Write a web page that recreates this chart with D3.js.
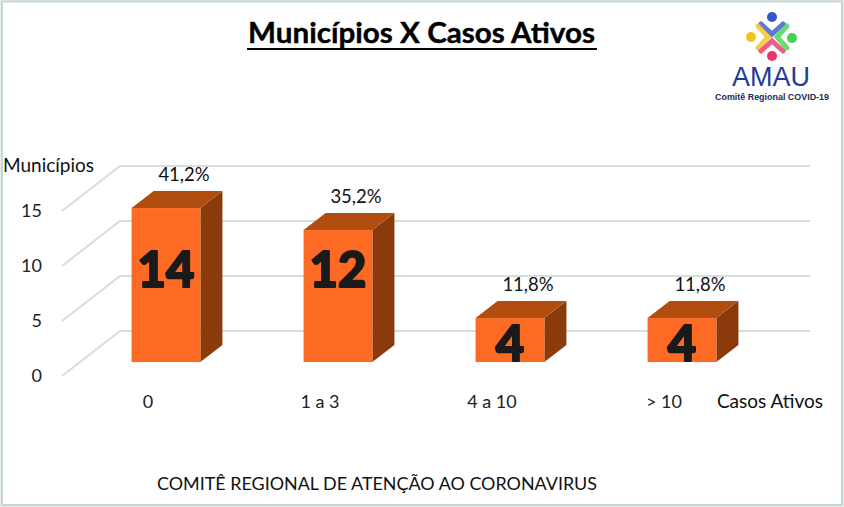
<!DOCTYPE html>
<html>
<head>
<meta charset="utf-8">
<script src="https://cdn.jsdelivr.net/npm/d3@7"></script>
<style>
  html, body { margin: 0; padding: 0; background: #e6eeeb; }
  svg { display: block; font-family: Lato, 'Open Sans', sans-serif; }
</style>
</head>
<body>
<div id="chart"></div>
<script>
const categories = ['0', '1 a 3', '4 a 10', '> 10'];
const municipios = [14, 12, 4, 4];
const percentLabels = ['41,2%', '35,2%', '11,8%', '11,8%'];
const yTicks = [0, 5, 10, 15];

const width = 844;
const height = 507;

// fake 3d: how far the back wall is shifted from the front plane
const depth = { dx: 58, dy: -45 };
const barFront = 0.31, barBack = 0.69;
const proj = (x, y, f) => [x + depth.dx * f, y + depth.dy * f];

const y = d3.scaleLinear().domain([0, 15]).range([376, 211]);
const x = d3.scaleBand()
  .domain(categories)
  .range([62, 750])
  .paddingInner(0.6)
  .paddingOuter(0.3);

const svg = d3.select('#chart').append('svg')
  .attr('width', width)
  .attr('height', height);

svg.append('rect')
  .attr('x', 2).attr('y', 1.5)
  .attr('width', 840).attr('height', 503.5)
  .attr('fill', '#fff')
  .attr('stroke', '#c6d6d1')
  .attr('stroke-width', 2);

// Title
svg.append('text')
  .attr('x', 248).attr('y', 43)
  .attr('font-size', 29).attr('font-weight', 'bold')
  .attr('stroke', '#000').attr('stroke-width', 0.4)
  .attr('textLength', 347).attr('lengthAdjust', 'spacingAndGlyphs')
  .text('Municípios X Casos Ativos');
svg.append('line')
  .attr('x1', 247).attr('x2', 597)
  .attr('y1', 49).attr('y2', 49)
  .attr('stroke', '#000').attr('stroke-width', 2);

// Logo (rough)
const logo = svg.append('g');
const people = [
  { c: '#3457c9', head: [772, 17], arm: [[761, 24], [772, 34], [783, 24]] },
  { c: '#f4c21c', head: [751, 37], arm: [[758, 26], [768, 37], [758, 48]] },
  { c: '#41d44a', head: [792, 38], arm: [[787, 26], [777, 37], [787, 48]] },
  { c: '#e8356a', head: [772, 56], arm: [[761, 51], [772, 41], [783, 51]] },
];
logo.selectAll('path')
  .data(people)
  .join('path')
  .attr('d', d => d3.line()(d.arm))
  .attr('fill', 'none')
  .attr('stroke', d => d.c)
  .attr('stroke-width', 5)
  .attr('stroke-linecap', 'round')
  .attr('opacity', 0.8);
logo.selectAll('circle')
  .data(people)
  .join('circle')
  .attr('cx', d => d.head[0]).attr('cy', d => d.head[1])
  .attr('r', 5)
  .attr('fill', d => d.c);
logo.append('text')
  .attr('x', 771).attr('y', 86)
  .attr('text-anchor', 'middle')
  .attr('font-family', 'Liberation Sans, Arial, sans-serif')
  .attr('font-size', 27)
  .attr('fill', '#1f3d95')
  .attr('textLength', 78).attr('lengthAdjust', 'spacingAndGlyphs')
  .text('AMAU');
logo.append('text')
  .attr('x', 772).attr('y', 100)
  .attr('text-anchor', 'middle')
  .attr('font-family', 'Liberation Sans, Arial, sans-serif')
  .attr('font-size', 8.6).attr('font-weight', 'bold')
  .attr('fill', '#1d2b55')
  .attr('textLength', 114).attr('lengthAdjust', 'spacingAndGlyphs')
  .text('Comitê Regional COVID-19');

// Walls: diagonal floor lines + horizontal back grid
const x0 = x.range()[0], x1 = x.range()[1];
svg.append('g')
  .selectAll('path')
  .data(yTicks)
  .join('path')
  .attr('d', v => d3.line()([
    proj(x0, y(v), 0),
    proj(x0, y(v), 1),
    proj(x1 + 2, y(v), 1),
  ]))
  .attr('fill', 'none')
  .attr('stroke', '#d3dfdb')
  .attr('stroke-width', 2);

// y tick labels
svg.append('g')
  .selectAll('text')
  .data(yTicks)
  .join('text')
  .attr('x', 42)
  .attr('y', v => y(v))
  .attr('dy', '0.35em')
  .attr('text-anchor', 'end')
  .attr('font-size', 18)
  .attr('fill', '#222')
  .text(v => v);

svg.append('text')
  .attr('x', 3).attr('y', 172)
  .attr('font-size', 19)
  .attr('fill', '#111')
  .text('Municípios');

// Bars
const data = categories.map((c, i) => ({ c, v: municipios[i], pct: percentLabels[i] }));
const gBars = svg.append('g')
  .selectAll('g')
  .data(data)
  .join('g');

gBars.append('path')
  .attr('d', d => {
    const bx = x(d.c), w = x.bandwidth();
    return d3.line()([
      proj(bx + w, y(d.v), barFront),
      proj(bx + w, y(0), barFront),
      proj(bx + w, y(0), barBack),
      proj(bx + w, y(d.v), barBack),
    ]) + 'Z';
  })
  .attr('fill', '#8b3b0b');

gBars.append('path')
  .attr('d', d => {
    const bx = x(d.c), w = x.bandwidth();
    return d3.line()([
      proj(bx, y(d.v), barFront),
      proj(bx + w, y(d.v), barFront),
      proj(bx + w, y(d.v), barBack),
      proj(bx, y(d.v), barBack),
    ]) + 'Z';
  })
  .attr('fill', '#b24d10');

gBars.append('rect')
  .attr('x', d => proj(x(d.c), y(d.v), barFront)[0])
  .attr('y', d => proj(x(d.c), y(d.v), barFront)[1])
  .attr('width', x.bandwidth())
  .attr('height', d => y(0) - y(d.v))
  .attr('fill', '#fd6a24');

// value inside the bar
gBars.append('text')
  .attr('x', d => proj(x(d.c) + x.bandwidth() / 2, 0, barFront)[0])
  .attr('y', d => {
    const top = proj(0, y(d.v), barFront)[1];
    const bottom = proj(0, y(0), barFront)[1];
    return d.v > 8 ? proj(0, y(8.4), barFront)[1] : (top + bottom) / 2 + 3;
  })
  .attr('dy', '0.36em')
  .attr('text-anchor', 'middle')
  .attr('font-size', 49)
  .attr('font-weight', 900)
  .attr('fill', '#1a1a1a')
  .attr('stroke', '#1a1a1a')
  .attr('stroke-width', 2)
  .attr('stroke-linejoin', 'round')
  .text(d => d.v);

// percentage above the bar
gBars.append('text')
  .attr('x', d => x(d.c) + x.bandwidth() / 2 + 36)
  .attr('y', d => proj(0, y(d.v), barBack)[1] - 10)
  .attr('text-anchor', 'middle')
  .attr('font-size', 18.5)
  .attr('fill', '#111')
  .text(d => d.pct);

// category labels
svg.append('g')
  .selectAll('text')
  .data(categories)
  .join('text')
  .attr('x', c => x(c) + x.bandwidth() / 2)
  .attr('y', 408)
  .attr('text-anchor', 'middle')
  .attr('font-size', 18)
  .attr('fill', '#222')
  .text(c => c);

svg.append('text')
  .attr('x', 823).attr('y', 408)
  .attr('text-anchor', 'end')
  .attr('font-size', 19)
  .attr('fill', '#111')
  .text('Casos Ativos');

svg.append('text')
  .attr('x', 157).attr('y', 490)
  .attr('font-size', 17)
  .attr('fill', '#111')
  .attr('textLength', 440).attr('lengthAdjust', 'spacingAndGlyphs')
  .text('COMITÊ REGIONAL DE ATENÇÃO AO CORONAVIRUS');
</script>
</body>
</html>
